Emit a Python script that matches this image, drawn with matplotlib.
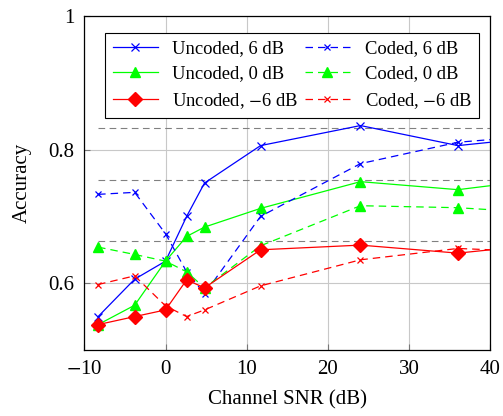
import matplotlib
matplotlib.use('Agg')
import matplotlib.pyplot as plt

plt.rcParams['font.family'] = ['Liberation Serif', 'DejaVu Serif']
plt.rcParams['mathtext.fontset'] = 'stix'

# channel SNR (dB); last point sits on the right edge
snr = [-8.3, -3.8, 0, 2.6, 4.8, 11.7, 24, 36, 40]

unc_6 = [0.550, 0.606, 0.633, 0.700, 0.750, 0.806, 0.836, 0.806, 0.811]
cod_6 = [0.733, 0.736, 0.674, 0.617, 0.584, 0.700, 0.779, 0.811, 0.815]
unc_0 = [0.538, 0.567, 0.633, 0.670, 0.684, 0.712, 0.752, 0.740, 0.746]
cod_0 = [0.654, 0.643, 0.633, 0.617, 0.593, 0.656, 0.716, 0.713, 0.710]
unc_m6 = [0.538, 0.550, 0.560, 0.605, 0.593, 0.650, 0.657, 0.645, 0.650]
cod_m6 = [0.598, 0.611, 0.566, 0.550, 0.560, 0.596, 0.635, 0.652, 0.650]

# dashed reference levels
ref_levels = [0.833, 0.755, 0.663]

fig = plt.figure(figsize=(5.03, 4.16), dpi=100)
ax = fig.add_axes([0.1676, 0.1587, 0.8074, 0.8028])

for lvl in ref_levels:
    ax.plot([snr[0], 40], [lvl, lvl], color='#808080', lw=0.8, dashes=(6, 4), zorder=2)

mk = list(range(len(snr) - 1))
lw = 0.9
h1, = ax.plot(snr, unc_6, color='blue', lw=lw, marker='x', ms=6, mew=0.9, markevery=mk,
              label='Uncoded, 6 dB', zorder=3)
h2, = ax.plot(snr, unc_0, color='#00ff00', lw=lw, marker='^', ms=7, markevery=mk,
              label='Uncoded, 0 dB', zorder=3)
h3, = ax.plot(snr, unc_m6, color='red', lw=lw, marker='D', ms=6.8, markevery=mk,
              label='Uncoded, $-$6 dB', zorder=4)
h4, = ax.plot(snr, cod_6, color='blue', lw=lw, dashes=(6, 4), marker='x', ms=5, mew=0.9,
              markevery=mk, label='Coded, 6 dB', zorder=3)
h5, = ax.plot(snr, cod_0, color='#00ff00', lw=lw, dashes=(6, 4), marker='^', ms=6.5,
              markevery=mk, label='Coded, 0 dB', zorder=3)
h6, = ax.plot(snr, cod_m6, color='red', lw=lw, dashes=(6, 4), marker='x', ms=5, mew=0.9,
              markevery=mk, label='Coded, $-$6 dB', zorder=3)

ax.set_xlim(-10, 40)
ax.set_ylim(0.5, 1.0)
ax.set_xticks([-10, 0, 10, 20, 30, 40])
ax.set_xticklabels(['$-$10', '0', '10', '20', '30', '40'])
ax.set_yticks([0.6, 0.8, 1.0])
ax.set_yticklabels(['0.6', '0.8', '1'])
ax.grid(True, color='#c8c8c8', lw=0.8, zorder=0)
ax.set_axisbelow(True)
ax.tick_params(direction='in', length=4, color='#777777', labelsize=15, pad=7)
for s in ax.spines.values():
    s.set_linewidth(0.9)

ax.set_xlabel('Channel SNR (dB)', fontsize=15, labelpad=8)
ax.set_ylabel('Accuracy', fontsize=15, labelpad=12)

leg = ax.legend(handles=[h1, h2, h3, h4, h5, h6], ncol=2, loc='upper center',
                bbox_to_anchor=(0.5125, 0.978), fontsize=13.4, fancybox=False,
                edgecolor='black', framealpha=1, handlelength=2.4,
                columnspacing=0.35, handletextpad=0.8, labelspacing=0.45,
                borderpad=0.4)
leg.get_frame().set_linewidth(0.8)

fig.savefig('out.png', dpi=100)
